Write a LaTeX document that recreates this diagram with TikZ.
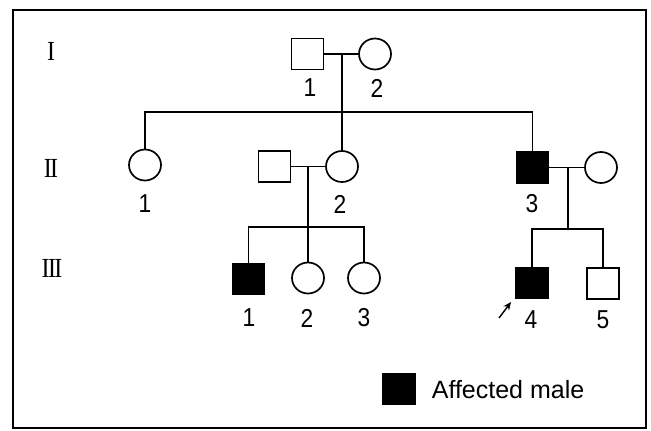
\documentclass[tikz,border=0pt]{standalone}
\usepackage{fontspec}
\setsansfont{Liberation Sans}
\newfontfamily\genfont{Liberation Serif}
\usetikzlibrary{arrows.meta,shapes.geometric}
\begin{document}
\begin{tikzpicture}[x=1pt,y=-1pt,
  line width=1.7pt,
  male/.style={draw, rectangle, minimum width=32pt, minimum height=31pt, inner sep=0pt, fill=white},
  female/.style={draw, ellipse, minimum width=32pt, minimum height=31pt, inner sep=0pt, fill=white},
  aff/.style={fill=black},
  num/.style={font=\sffamily\fontsize{24}{24}\selectfont, inner sep=0pt},
  gen/.style={font=\genfont\fontsize{24}{24}\selectfont, inner sep=0pt},
  legtext/.style={font=\sffamily\fontsize{25}{25}\selectfont, inner sep=0pt, anchor=west}]
\useasboundingbox (0,0) rectangle (651,431);
\draw[line width=1.4pt] (13,10) rectangle (646,428);

% generation labels
\node[gen] (gI) at (51,51) {\scalebox{1}[1.15]{I}};
\node[gen] (gII) at (51,168) {\scalebox{1}[1.15]{I\kern-1.6pt I}};
\node[gen] (gIII) at (52,268) {\scalebox{1}[1.15]{I\kern-1.6pt I\kern-1.6pt I}};

% generation I
\node[male] (i1) at (307.5,54) {};
\node[female] (i2) at (375,54) {};
\coordinate (m1) at (342,54);
\draw (i1) -- (i2);

% generation II
\node[female] (ii1) at (145,165) {};
\node[male] (ii2h) at (274.5,166.5) {};
\node[female] (ii2) at (342,166.5) {};
\node[male,aff] (ii3) at (532.5,167.5) {};
\node[female] (ii3w) at (601,167.5) {};
\coordinate (s1a) at (145,112);
\coordinate (s1b) at (532.5,112);
\draw (m1) -- (ii2);
\draw (ii1) -- (s1a) -- (s1b) -- (ii3);
\draw (ii2h) -- (ii2);
\draw (ii3) -- (ii3w);

% generation III
\node[male,aff] (iii1) at (248.5,279) {};
\node[female] (iii2) at (308,278) {};
\node[female] (iii3) at (364,278) {};
\node[male,aff] (iii4) at (532,283) {};
\node[male] (iii5) at (603,283.5) {};
\coordinate (m2) at (308,166.5);
\coordinate (s2a) at (248.5,227);
\coordinate (s2b) at (364,227);
\draw (m2) -- (iii2);
\draw (iii1) -- (s2a) -- (s2b) -- (iii3);
\coordinate (m3) at (568,167.5);
\coordinate (s3a) at (532,229);
\coordinate (s3m) at (568,229);
\coordinate (s3b) at (603,229);
\draw (m3) -- (s3m);
\draw (iii4) -- (s3a) -- (s3b) -- (iii5);

% number labels
\node[num] (l_i1) at (310,88) {\scalebox{0.95}[1.08]{1}};
\node[num] (l_i2) at (377,88) {\scalebox{0.95}[1.08]{2}};
\node[num] (l_ii1) at (145,204) {\scalebox{0.95}[1.08]{1}};
\node[num] (l_ii2) at (340,204) {\scalebox{0.95}[1.08]{2}};
\node[num] (l_ii3) at (532,204) {\scalebox{0.95}[1.08]{3}};
\node[num] (l_iii1) at (249,318) {\scalebox{0.95}[1.08]{1}};
\node[num] (l_iii2) at (307,318) {\scalebox{0.95}[1.08]{2}};
\node[num] (l_iii3) at (364,318) {\scalebox{0.95}[1.08]{3}};
\node[num] (l_iii4) at (531,320) {\scalebox{0.95}[1.08]{4}};
\node[num] (l_iii5) at (603,320) {\scalebox{0.95}[1.08]{5}};

% proband arrow
\coordinate (arA) at (499,318);
\coordinate (arB) at (511,302);
\draw[line width=1.4pt, -{Stealth[length=8pt,width=7pt]}] (arA) -- (arB);

% legend
\node[male,aff] (leg) at (399,389) {};
\node[legtext] (legt) at (431,390) {Affected male};
\end{tikzpicture}
\end{document}
